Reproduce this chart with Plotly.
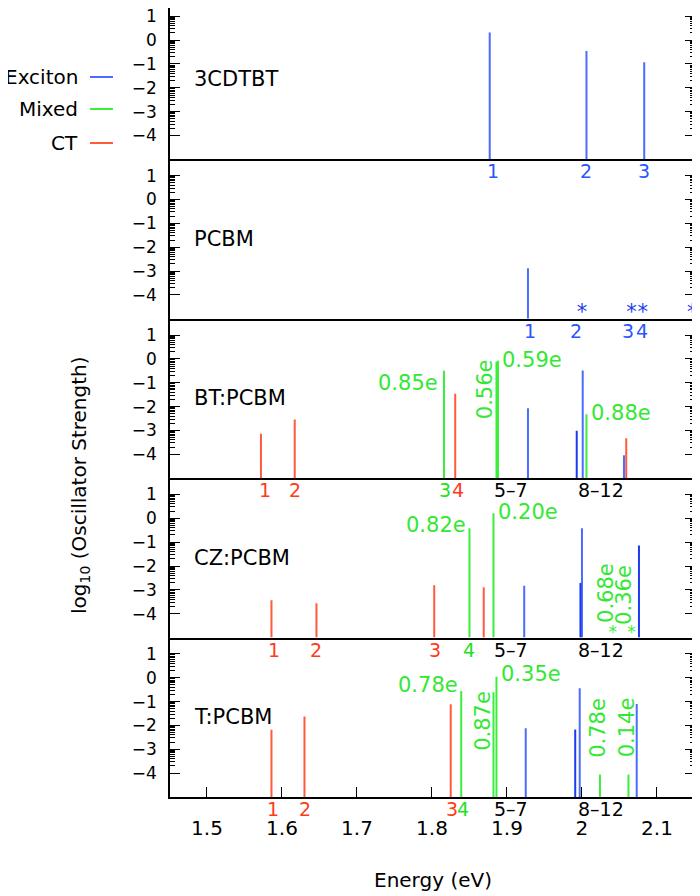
import plotly.graph_objects as go
from plotly.subplots import make_subplots
import math

panel_names = ["3CDTBT", "PCBM", "BT:PCBM", "CZ:PCBM", "T:PCBM"]

# energies (eV) and log10 oscillator strengths, one list per panel
exc_e = [[1.877, 2.006, 2.083], [1.928], [1.928, 2.001, 2.056], [1.923, 2.000], [1.925, 1.997, 2.073]]
exc_f = [[0.32, -0.46, -0.93], [-2.88], [-2.07, -0.49, -4.04], [-2.83, -0.42], [-2.12, -0.44, -1.10]]
exc2_e = [[], [], [1.993], [1.998, 2.076], [1.991]]
exc2_f = [[], [], [-3.01], [-2.71, -1.14], [-2.17]]
mix_e = [[], [], [1.816, 1.886, 1.888, 2.006], [1.850, 1.882], [1.839, 1.882, 1.886, 2.024, 2.062]]
mix_f = [[], [], [-0.50, -0.12, -0.08, -2.32], [-0.42, 0.21], [-0.56, -0.61, 0.04, -4.06, -4.06]]
ct_e = [[], [], [1.572, 1.617, 1.831, 2.059], [1.586, 1.646, 1.803, 1.869], [1.586, 1.630, 1.825]]
ct_f = [[], [], [-3.14, -2.54, -1.46, -3.33], [-3.43, -3.56, -2.81, -2.89], [-2.18, -1.63, -1.11]]

# states below the plotted range
pcbm_star_e = [2.000, 2.066, 2.081, 2.147]
cz_star_e = [2.041, 2.066]

# state numbering under each panel
row_labels = [
    [("1", 1.881, "b"), ("2", 2.006, "b"), ("3", 2.083, "b")],
    [("1", 1.931, "b"), ("2", 1.992, "b"), ("3", 2.061, "b"), ("4", 2.080, "b")],
    [("1", 1.577, "r"), ("2", 1.617, "r"), ("3", 1.817, "g"), ("4", 1.835, "r"), ("5–7", 1.906, "k"), ("8–12", 2.025, "k")],
    [("1", 1.590, "r"), ("2", 1.646, "r"), ("3", 1.804, "r"), ("4", 1.850, "g"), ("5–7", 1.906, "k"), ("8–12", 2.025, "k")],
    [("1", 1.588, "r"), ("2", 1.631, "r"), ("3", 1.827, "r"), ("4", 1.842, "g"), ("5–7", 1.906, "k"), ("8–12", 2.026, "k")],
]

# charge transferred labels: (row, text, energy, log f, anchor, angle)
charge_labels = [
    (3, "0.85e", 1.811, -1.03, "right", 0),
    (3, "0.56e", 1.871, -1.26, "center", -90),
    (3, "0.59e", 1.891, -0.06, "left", 0),
    (3, "0.88e", 2.009, -2.28, "left", 0),
    (4, "0.82e", 1.848, -0.28, "right", 0),
    (4, "0.20e", 1.885, 0.28, "left", 0),
    (4, "0.68e", 2.032, -3.13, "center", -90),
    (4, "0.36e", 2.055, -3.20, "center", -90),
    (5, "0.78e", 1.837, -0.31, "right", 0),
    (5, "0.87e", 1.868, -1.81, "center", -90),
    (5, "0.35e", 1.889, 0.14, "left", 0),
    (5, "0.78e", 2.022, -2.08, "center", -90),
    (5, "0.14e", 2.060, -2.08, "center", -90),
]

x_ticks = [1.5, 1.6, 1.7, 1.8, 1.9, 2.0, 2.1]
x_ticktext = ["1.5", "1.6", "1.7", "1.8", "1.9", "2", "2.1"]
y_ticks = [-4, -3, -2, -1, 0, 1]

BLUE = "#4a6cff"
DBLUE = "#1a3cf0"
GREEN = "#3cee3c"
RED = "#ff5a3c"
txt_col = {"b": "#2a55ff", "r": "#ff3a1a", "g": "#22e022", "k": "black"}
FONT = "DejaVu Sans"

# the page body adds an 8px offset; plot area height in figure pixels
H = 789.0
PX_UNIT = 159.4 / 6.68
top_h = 151.4

fig = make_subplots(rows=5, cols=1, shared_xaxes=True, vertical_spacing=0,
                    row_heights=[top_h, 159.4, 159.4, 159.4, 159.4])


def stems(e, f):
    xs, ys = [], []
    for a, b in zip(e, f):
        xs += [a, a, None]
        ys += [-5, b, None]
    return xs, ys


def py(screen_y):
    return (797 - screen_y) / H


def px(screen_x):
    return (screen_x - 170) / 525


for i in range(5):
    for e, f, c in [(ct_e[i], ct_f[i], RED), (mix_e[i], mix_f[i], GREEN),
                    (exc_e[i], exc_f[i], BLUE), (exc2_e[i], exc2_f[i], DBLUE)]:
        if not e:
            continue
        xs, ys = stems(e, f)
        fig.add_trace(go.Scatter(x=xs, y=ys, mode="lines", line=dict(color=c, width=2),
                                 showlegend=False, hoverinfo="skip"), row=i + 1, col=1)

fig.add_trace(go.Scatter(x=pcbm_star_e, y=[-4.8] * len(pcbm_star_e), mode="text", text=["*"] * len(pcbm_star_e),
                         textfont=dict(size=21, color=DBLUE, family=FONT), showlegend=False), row=2, col=1)
fig.add_trace(go.Scatter(x=cz_star_e, y=[-4.82] * len(cz_star_e), mode="text", text=["*"] * len(cz_star_e),
                         textfont=dict(size=17, color=GREEN, family=FONT), showlegend=False), row=4, col=1)

minor_vals = [n + math.log10(k) for n in range(-4, 1) for k in range(2, 10)]

for i in range(5):
    top = -5 + (top_h if i == 0 else 159.4) / PX_UNIT
    fig.update_yaxes(range=[-5, top], tickvals=y_ticks, ticks="inside", ticklen=10, tickwidth=1.2,
                     tickcolor="black", showline=True, linecolor="black", linewidth=1.5, mirror="ticks",
                     showgrid=False, zeroline=False, tickfont=dict(size=17, color="black"),
                     ticklabelstandoff=8, ticklabeloverflow="allow", automargin=False,
                     minor=dict(tickmode="array", tickvals=minor_vals, ticks="inside", ticklen=5,
                                tickcolor="black", tickwidth=1),
                     row=i + 1, col=1)
    fig.update_xaxes(range=[1.4507, 2.1507], showline=True, linecolor="black", linewidth=1.5,
                     mirror=False, showgrid=False, zeroline=False, ticks="", showticklabels=False,
                     automargin=False, row=i + 1, col=1)

fig.update_xaxes(ticks="inside", tickvals=x_ticks, ticktext=x_ticktext, ticklen=10, tickwidth=1.2,
                 tickcolor="black", showticklabels=True, tickfont=dict(size=20, color="black"),
                 ticklabelstandoff=12, row=5, col=1)

for i, name in enumerate(panel_names):
    fig.add_annotation(x=1.48, y=-1.65, text=name, showarrow=False, xanchor="left", yanchor="middle",
                       font=dict(size=21, color="black"), row=i + 1, col=1)

for i, labels in enumerate(row_labels):
    ybot = fig.layout["yaxis" + ("" if i == 0 else str(i + 1))].domain[0]
    for t, e, c in labels:
        fig.add_annotation(x=e, y=ybot, xref="x", yref="paper", text=t, showarrow=False,
                           xanchor="center", yanchor="top", yshift=1, font=dict(size=19, color=txt_col[c]))

for r, t, e, v, anc, ang in charge_labels:
    fig.add_annotation(x=e, y=v, text=t, showarrow=False, xanchor=anc, yanchor="middle", textangle=ang,
                       font=dict(size=21, color="#33e833"), row=r, col=1)

# legend drawn by hand (text left of the line)
for name, c, sy in [("Exciton", BLUE, 77), ("Mixed", GREEN, 109), ("CT", RED, 143)]:
    fig.add_annotation(x=px(80), y=py(sy), xref="paper", yref="paper", text=name, showarrow=False,
                       xanchor="right", yanchor="middle", font=dict(size=20, color="black"))
    fig.add_shape(type="line", xref="paper", yref="paper", x0=px(90), x1=px(113),
                  y0=py(sy), y1=py(sy), line=dict(color=c, width=2))

fig.add_annotation(x=px(80), y=py(485), xref="paper", yref="paper",
                   text="log<sub>10</sub> (Oscillator Strength)", textangle=-90, showarrow=False,
                   xanchor="center", yanchor="middle", font=dict(size=20, color="black"))
fig.add_annotation(x=0.5, y=py(880), xref="paper", yref="paper", text="Energy (eV)",
                   showarrow=False, xanchor="center", yanchor="middle", font=dict(size=20, color="black"))

fig.update_layout(width=700, height=896, margin=dict(l=162, r=13, t=0, b=107, autoexpand=False),
                  plot_bgcolor="white", paper_bgcolor="white",
                  font=dict(family=FONT, color="black"), showlegend=False)

fig.write_html("out.html")
